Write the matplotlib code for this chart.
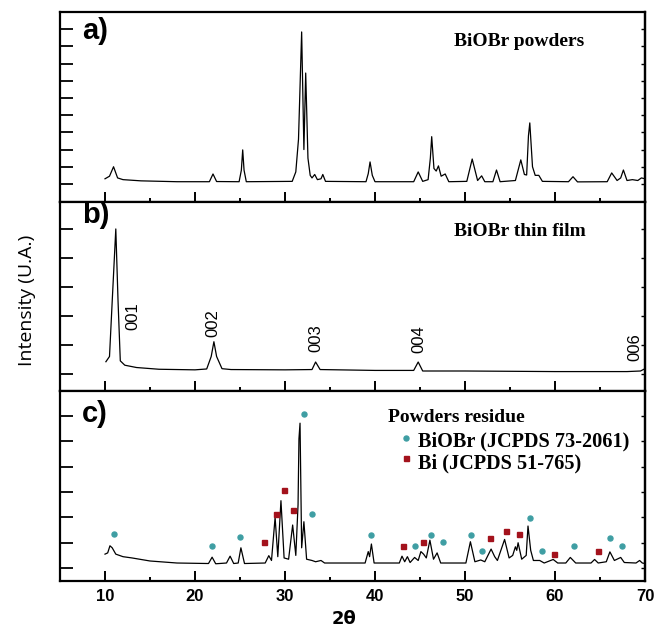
import matplotlib
matplotlib.use("Agg")
import matplotlib.pyplot as plt

# --- data ---
# a) BiOBr powders
a_x = [10.0, 10.5, 10.95, 11.4, 12, 14, 18, 21.6, 22.0, 22.4, 24.9, 25.15, 25.3, 25.45, 25.7,
       30.8, 31.2, 31.5, 31.85, 32.1, 32.3, 32.55, 32.8, 33.0, 33.3, 33.6, 34.0, 34.2, 34.5,
       39.0, 39.25, 39.45, 39.7, 40.0, 44.3, 44.8, 45.3, 45.9, 46.15, 46.3, 46.55, 46.8, 47.05,
       47.35, 47.8, 48.2, 50.2, 50.8, 51.4, 51.85, 52.2, 53.1, 53.5, 53.9, 55.6, 56.2, 56.6,
       56.85, 57.05, 57.2, 57.5, 57.8, 58.2, 58.6, 61.5, 62.0, 62.5, 65.8, 66.3, 66.9, 67.3,
       67.6, 68.0, 68.6, 69.2, 69.6, 70.0]
a_y = [0.3, 0.45, 1.0, 0.35, 0.25, 0.18, 0.13, 0.13, 0.58, 0.14, 0.13, 0.8, 1.98, 0.8, 0.13,
       0.15, 0.7, 2.6, 8.84, 2.0, 6.45, 1.5, 0.5, 0.35, 0.55, 0.25, 0.3, 0.55, 0.15,
       0.13, 0.6, 1.28, 0.5, 0.13, 0.13, 0.7, 0.15, 0.25, 1.5, 2.75, 0.9, 0.75, 1.05,
       0.45, 0.58, 0.13, 0.15, 1.45, 0.2, 0.47, 0.13, 0.13, 0.81, 0.13, 0.2, 1.4, 0.55,
       0.52, 2.8, 3.55, 1.0, 0.5, 0.5, 0.15, 0.13, 0.42, 0.12, 0.13, 0.64, 0.2, 0.35,
       0.81, 0.2, 0.25, 0.2, 0.35, 0.3]

# b) BiOBr thin film
b_x = [10.1, 10.5, 10.8, 11.2, 11.45, 11.7, 12.2, 13.5, 16, 20, 21.3, 21.8, 22.1, 22.4, 23.0,
       24, 30, 33.0, 33.4, 33.9, 40, 44.3, 44.8, 45.3, 50, 60, 68, 69.5, 70.0]
b_y = [0.42, 0.6, 2.5, 5.0, 2.5, 0.45, 0.3, 0.22, 0.16, 0.14, 0.17, 0.6, 1.11, 0.6, 0.18,
       0.15, 0.14, 0.15, 0.41, 0.15, 0.12, 0.12, 0.41, 0.1, 0.1, 0.08, 0.08, 0.1, 0.18]
b_hkl = ["001", "002", "003", "004", "006"]
b_hkl_x = [13.1, 22.0, 33.4, 44.9, 68.9]
b_hkl_y = [2.0, 1.75, 1.24, 1.2, 0.93]

# c) powders residue
c_x = [10.0, 10.3, 10.55, 10.8, 11.2, 12, 13, 15, 18, 21.5, 21.9, 22.3, 23.5, 23.9, 24.3,
       24.8, 25.1, 25.5, 27.8, 28.2, 28.5, 28.9, 29.2, 29.55, 29.9, 30.4, 30.85, 31.2, 31.45,
       31.55, 31.67, 31.85, 32.1, 32.4, 33.0, 33.4, 34.0, 34.4, 38.9, 39.25, 39.4, 39.6, 39.9,
       42.7, 43.0, 43.3, 43.6, 43.9, 44.4, 44.8, 45.1, 45.4, 45.7, 46.1, 46.5, 46.9, 47.3,
       50.1, 50.6, 51.1, 51.75, 52.2, 52.9, 53.3, 53.6, 54.4, 54.9, 55.3, 55.6, 55.75, 55.9,
       56.3, 56.8, 57.0, 57.3, 57.6, 58.3, 58.8, 59.8, 60.3, 61.2, 61.7, 62.3, 64.0, 64.4,
       64.8, 65.7, 66.1, 66.6, 67.3, 67.7, 69.0, 69.4, 69.7, 70.0]
c_y = [0.55, 0.6, 0.88, 0.8, 0.55, 0.45, 0.4, 0.28, 0.2, 0.18, 0.43, 0.17, 0.2, 0.47, 0.18,
       0.2, 0.8, 0.18, 0.2, 0.49, 0.3, 2.0, 0.45, 2.66, 0.4, 0.35, 1.7, 0.5, 2.5,
       5.1, 5.72, 0.8, 1.83, 0.35, 0.3, 0.25, 0.3, 0.2, 0.2, 0.65, 0.45, 0.95, 0.2,
       0.2, 0.47, 0.25, 0.45, 0.22, 0.42, 0.3, 0.65, 0.55, 0.4, 1.1, 0.35, 0.6, 0.2,
       0.2, 1.04, 0.25, 0.32, 0.25, 0.75, 0.45, 0.3, 1.13, 0.4, 0.5, 0.84, 0.7, 1.0,
       0.35, 0.5, 1.66, 0.7, 0.3, 0.3, 0.2, 0.34, 0.2, 0.2, 0.42, 0.2, 0.2, 0.34,
       0.2, 0.25, 0.64, 0.3, 0.42, 0.22, 0.2, 0.3, 0.2, 0.18]

# phase markers in c)
biobr_x = [11.0, 21.9, 25.0, 32.1, 33.0, 39.55, 44.4, 46.2, 47.5, 50.7, 51.9, 57.2, 58.55,
           62.15, 66.1, 67.4]
biobr_y = [1.34, 0.87, 1.22, 6.09, 2.15, 1.32, 0.87, 1.32, 1.03, 1.32, 0.69, 1.98, 0.69,
           0.87, 1.2, 0.87]
bi_x = [27.7, 29.0, 29.85, 30.85, 43.1, 45.3, 52.8, 54.6, 56.0, 59.85, 64.75]
bi_y = [1.01, 2.13, 3.1, 2.29, 0.87, 1.03, 1.2, 1.46, 1.33, 0.57, 0.69]

teal = "#3f9ea3"
red = "#a3121c"

W, H = 657, 631
fig = plt.figure(figsize=(W / 100, H / 100), dpi=100)


def px(x, y):
    return x / W, 1 - y / H


left, right = 60 / W, 645 / W
panels = [(12, 202), (202, 391), (391, 581)]
axes = []
for top, bot in panels:
    ax = fig.add_axes([left, 1 - bot / H, right - left, (bot - top) / H])
    axes.append(ax)

ax_a, ax_b, ax_c = axes
ax_a.plot(a_x, a_y, color="black", lw=0.9)
ax_b.plot(b_x, b_y, color="black", lw=0.9)
ax_c.plot(c_x, c_y, color="black", lw=0.9)
ax_c.plot(biobr_x, biobr_y, "o", color=teal, ms=3.6, mec=teal, ls="none")
ax_c.plot(bi_x, bi_y, "s", color=red, ms=3.6, mec=red, ls="none")

ax_a.set_ylim(-1.05, 10.0)
ax_a.set_yticks(range(0, 10))
ax_b.set_ylim(-0.59, 5.93)
ax_b.set_yticks(range(0, 6))
ax_c.set_ylim(-0.51, 6.99)
ax_c.set_yticks(range(0, 7))

for ax in axes:
    ax.set_xlim(5, 70)
    ax.set_xticks(range(10, 71, 10))
    ax.set_xticks(range(15, 70, 10), minor=True)
    for s in ax.spines.values():
        s.set_linewidth(1.6)
    ax.tick_params(axis="x", which="major", direction="in", length=7, width=1.4,
                   top=False, bottom=True)
    ax.tick_params(axis="x", which="minor", direction="in", length=3, width=1.4,
                   top=False, bottom=True)
    ax.tick_params(axis="y", which="major", direction="in", length=9, width=1.3,
                   left=True, right=False, labelleft=False)
    sec = ax.secondary_yaxis("right")
    sec.set_yticks(ax.get_yticks())
    sec.tick_params(direction="in", length=3, width=1.0, labelright=False)
    sec.spines["right"].set_linewidth(1.6)

ax_a.tick_params(axis="x", labelbottom=False)
ax_b.tick_params(axis="x", labelbottom=False)
ax_c.tick_params(axis="x", which="major", pad=6)
for lab in ax_c.get_xticklabels():
    lab.set_fontfamily("Liberation Sans")
    lab.set_fontweight("bold")
    lab.set_fontsize(12)

# panel letters
for ax, letter, ypix in [(ax_a, "a)", 17), (ax_b, "b)", 201), (ax_c, "c)", 400)]:
    fig.text(*px(82, ypix), letter, fontsize=21, fontweight="bold",
             family="Liberation Sans", va="top", ha="left")

serif = dict(family="Liberation Serif", fontweight="bold", fontsize=14)
fig.text(*px(454, 42), "BiOBr powders", va="center", ha="left", **serif)
fig.text(*px(454, 232), "BiOBr thin film", va="center", ha="left", **serif)
fig.text(*px(388, 417), "Powders residue", va="center", ha="left", **serif)
fig.text(*px(418, 441), "BiOBr (JCPDS 73-2061)", va="center", ha="left",
         family="Liberation Serif", fontweight="bold", fontsize=14.6)
fig.text(*px(418, 463), "Bi (JCPDS 51-765)", va="center", ha="left",
         family="Liberation Serif", fontweight="bold", fontsize=14.6)
fig.lines.append(plt.Line2D([406 / W], [1 - 438 / H], marker="o", ms=3.6, color=teal,
                            transform=fig.transFigure))
fig.lines.append(plt.Line2D([406 / W], [1 - 458 / H], marker="s", ms=3.6, color=red,
                            transform=fig.transFigure))

for lab, x, y in zip(b_hkl, b_hkl_x, b_hkl_y):
    ax_b.text(x, y, lab, rotation=90, ha="center", va="center", fontsize=12,
              family="Liberation Sans")

fig.text(*px(27, 300), "Intensity (U.A.)", rotation=90, ha="center", va="center",
         fontsize=14, family="Open Sans")
fig.text(*px(344, 619), "2θ", ha="center", va="center", fontsize=13, fontweight="bold",
         family="DejaVu Sans")

fig.savefig("out.png", dpi=100)
